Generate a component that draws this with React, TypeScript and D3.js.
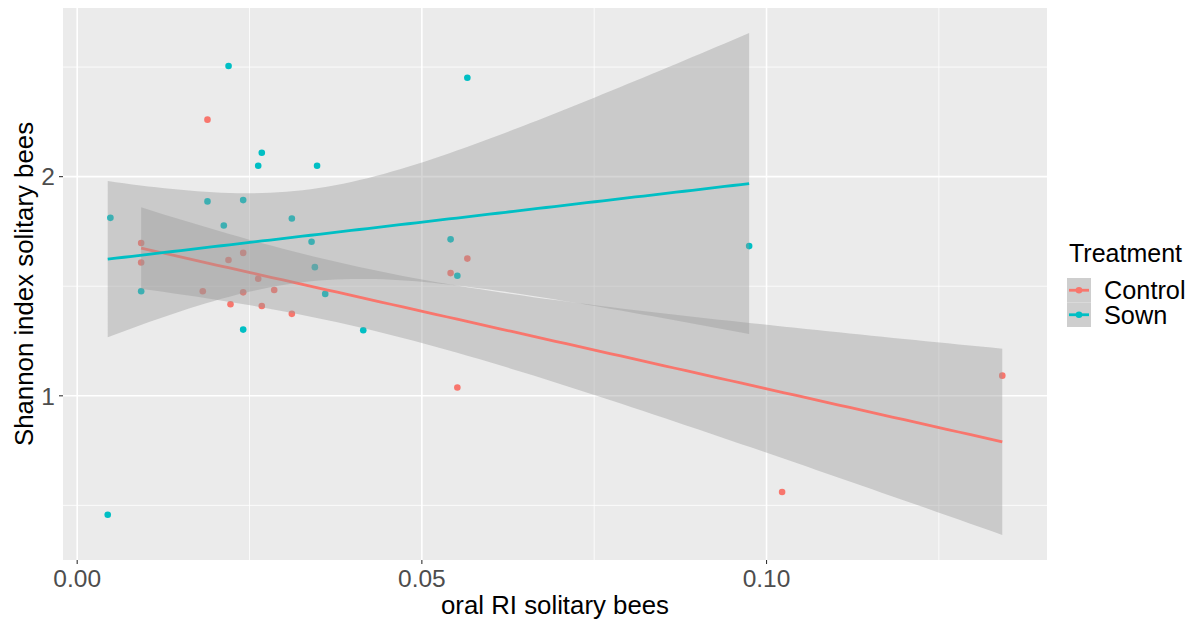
import React from "react";
import * as d3 from "d3";

// ---- data ----
const controlX = [0.0189, 0.00928, 0.00928, 0.02195, 0.02408, 0.02626, 0.01822, 0.02408, 0.02858, 0.0566, 0.05417, 0.02224, 0.02678, 0.03114, 0.05515, 0.1342, 0.10226];
const controlY = [2.26, 1.697, 1.608, 1.62, 1.652, 1.534, 1.477, 1.472, 1.483, 1.626, 1.56, 1.418, 1.41, 1.374, 1.038, 1.092, 0.561];
const sownX = [0.02196, 0.02678, 0.02626, 0.0348, 0.0566, 0.0189, 0.02408, 0.00482, 0.02127, 0.03114, 0.034, 0.03448, 0.05417, 0.05515, 0.00928, 0.03598, 0.02408, 0.0415, 0.00443, 0.09748];
const sownY = [2.505, 2.109, 2.05, 2.05, 2.451, 1.887, 1.893, 1.812, 1.777, 1.809, 1.703, 1.587, 1.714, 1.548, 1.477, 1.465, 1.302, 1.299, 0.457, 1.683];

const groups = ["Control", "Sown"];
const groupColors = ["#F8766D", "#00BFC4"];
const xTicks = [0, 0.05, 0.1];
const xMinor = [0.025, 0.075, 0.125];
const yTicks = [1, 2];
const yMinor = [0.5, 1.5, 2.5];
const xTitle = "oral RI solitary bees";
const yTitle = "Shannon index solitary bees";
const legendTitle = "Treatment";

const FONT = "'Liberation Sans', Arial, Helvetica, sans-serif";

function tQuant975(df: number) {
  const z = 1.959964;
  const z3 = z ** 3, z5 = z ** 5, z7 = z ** 7;
  return z + (z3 + z) / (4 * df) + (5 * z5 + 16 * z3 + 3 * z) / (96 * df * df) + (3 * z7 + 19 * z5 + 17 * z3 - 15 * z) / (384 * df ** 3);
}

function lmFit(xs: number[], ys: number[]) {
  const n = xs.length;
  const xb = d3.mean(xs)!;
  const yb = d3.mean(ys)!;
  let sxx = 0, sxy = 0;
  xs.forEach((x, i) => { sxx += (x - xb) ** 2; sxy += (x - xb) * (ys[i] - yb); });
  const b = sxy / sxx;
  const a = yb - b * xb;
  let sse = 0;
  xs.forEach((x, i) => { sse += (ys[i] - a - b * x) ** 2; });
  const s = Math.sqrt(sse / (n - 2));
  const t = tQuant975(n - 2);
  const [x0, x1] = d3.extent(xs) as [number, number];
  const pts = d3.range(80).map((i) => {
    const x = x0 + ((x1 - x0) * i) / 79;
    const fit = a + b * x;
    const se = s * Math.sqrt(1 / n + (x - xb) ** 2 / sxx);
    return { x, fit, lo: fit - t * se, hi: fit + t * se };
  });
  return pts;
}

export default function App() {
  const W = 1198, H = 625;
  const left = 63, right = 1047, top = 8, bottom = 560;

  const series = [
    { name: groups[0], color: groupColors[0], xs: controlX, ys: controlY },
    { name: groups[1], color: groupColors[1], xs: sownX, ys: sownY },
  ].map((s) => ({ ...s, fit: lmFit(s.xs, s.ys) }));

  const allX = [...controlX, ...sownX];
  const allY = [...controlY, ...sownY, ...series.flatMap((s) => s.fit.flatMap((p) => [p.lo, p.hi]))];
  const [xa, xb] = d3.extent(allX) as [number, number];
  const [ya, yb] = d3.extent(allY) as [number, number];
  const xe = (xb - xa) * 0.05, ye = (yb - ya) * 0.05;
  const x = d3.scaleLinear().domain([xa - xe, xb + xe]).range([left, right]);
  const y = d3.scaleLinear().domain([ya - ye, yb + ye]).range([bottom, top]);

  const area = d3.area<any>().x((d) => x(d.x)).y0((d) => y(d.lo)).y1((d) => y(d.hi));
  const line = d3.line<any>().x((d) => x(d.x)).y((d) => y(d.fit));

  const fmtX = d3.format(".2f");

  return (
    <svg width={W} height={H} style={{ position: "absolute", left: 0, top: 0, background: "#fff" }} fontFamily={FONT}>
      <defs>
        <clipPath id="panel">
          <rect x={left} y={top} width={right - left} height={bottom - top} />
        </clipPath>
      </defs>
      <rect x={left} y={top} width={right - left} height={bottom - top} fill="#EBEBEB" />
      <g clipPath="url(#panel)">
        {xMinor.map((v) => (
          <line key={"xm" + v} x1={x(v)} x2={x(v)} y1={top} y2={bottom} stroke="#fff" strokeWidth={0.8} />
        ))}
        {yMinor.map((v) => (
          <line key={"ym" + v} x1={left} x2={right} y1={y(v)} y2={y(v)} stroke="#fff" strokeWidth={0.8} />
        ))}
        {xTicks.map((v) => (
          <line key={"xM" + v} x1={x(v)} x2={x(v)} y1={top} y2={bottom} stroke="#fff" strokeWidth={1.6} />
        ))}
        {yTicks.map((v) => (
          <line key={"yM" + v} x1={left} x2={right} y1={y(v)} y2={y(v)} stroke="#fff" strokeWidth={1.6} />
        ))}
        {series.map((s) =>
          s.xs.map((xv, i) => (
            <circle key={s.name + i} cx={x(xv)} cy={y(s.ys[i])} r={3.3} fill={s.color} />
          ))
        )}
        {series.map((s) => (
          <g key={"sm" + s.name}>
            <path d={area(s.fit)!} fill="#999999" fillOpacity={0.4} />
            <path d={line(s.fit)!} fill="none" stroke={s.color} strokeWidth={2.8} />
          </g>
        ))}
      </g>
      {/* axes */}
      {xTicks.map((v) => (
        <g key={"xt" + v}>
          <line x1={x(v)} x2={x(v)} y1={bottom} y2={bottom + 4} stroke="#333" strokeWidth={1.1} />
          <text x={x(v)} y={586.5} textAnchor="middle" fontSize={24.5} fill="#4D4D4D">{fmtX(v)}</text>
        </g>
      ))}
      {yTicks.map((v) => (
        <g key={"yt" + v}>
          <line x1={left - 4} x2={left} y1={y(v)} y2={y(v)} stroke="#333" strokeWidth={1.1} />
          <text x={left - 8} y={y(v)} dy="0.36em" textAnchor="end" fontSize={24.5} fill="#4D4D4D">{v}</text>
        </g>
      ))}
      <text x={(left + right) / 2} y={614.3} textAnchor="middle" fontSize={25.8} fill="#000">{xTitle}</text>
      <text transform={`translate(33,${(top + bottom) / 2}) rotate(-90)`} textAnchor="middle" fontSize={25.8} fill="#000">{yTitle}</text>
      {/* legend */}
      <text x={1069} y={261.5} fontSize={25} fill="#000">{legendTitle}</text>
      {series.map((s, i) => {
        const ky = 278 + i * 24.5;
        return (
          <g key={"lg" + s.name}>
            <rect x={1067} y={ky} width={24} height={24.5} fill="#F2F2F2" />
            <rect x={1067} y={ky} width={24} height={24.5} fill="#999999" fillOpacity={0.4} />
            <line x1={1069} x2={1089} y1={ky + 12.25} y2={ky + 12.25} stroke={s.color} strokeWidth={2.8} />
            <circle cx={1079} cy={ky + 12.25} r={3.3} fill={s.color} />
            <text x={1104} y={ky + 12.25} dy="0.36em" fontSize={25.3} fill="#000">{s.name}</text>
          </g>
        );
      })}
    </svg>
  );
}
